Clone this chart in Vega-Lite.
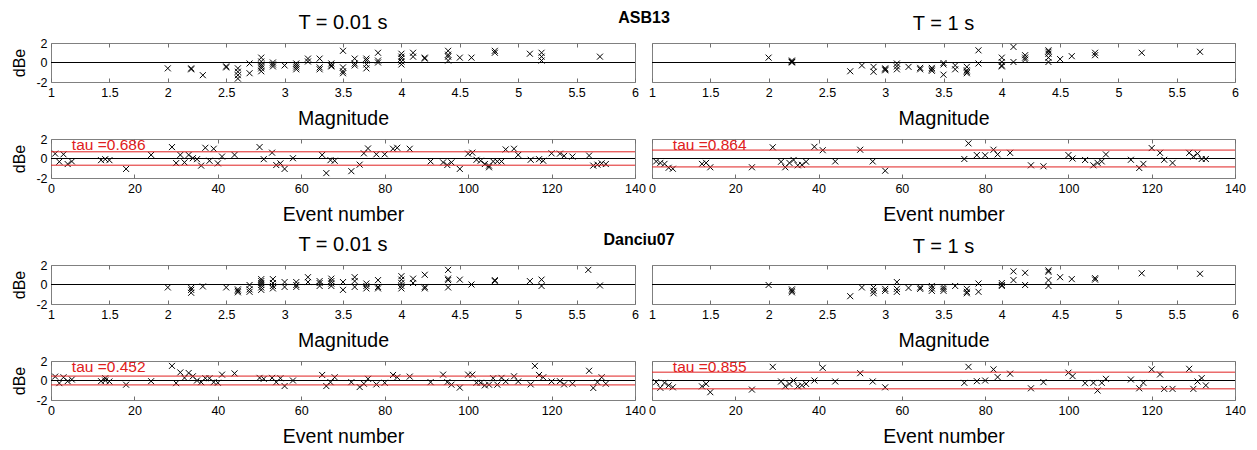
{
 "$schema": "https://vega.github.io/schema/vega-lite/v6.json",
 "padding": {"left": 11, "top": 9, "right": 5, "bottom": 5},
 "background": "white",
 "config": {
  "font": "Liberation Sans",
  "view": {"stroke": "#808080", "strokeWidth": 1},
  "axis": {"grid": false, "domain": false, "ticks": true, "tickSize": -4, "tickColor": "#707070", "tickWidth": 1, "labelPadding": 8, "labelFont": "Liberation Sans", "labelFontSize": 12.5, "labelColor": "#000000", "labelFlush": false, "labelOverlap": false, "labelBound": false, "titleFont": "Liberation Sans", "titleFontSize": 19.5, "titleFontWeight": "normal", "titleColor": "#000000", "titlePadding": 10.5},
  "axisY": {"ticks": false, "tickSize": 0, "labelPadding": 4, "titlePadding": 8, "titleFontSize": 16},
  "title": {"font": "Liberation Sans", "fontSize": 20, "fontWeight": "normal", "color": "#000000", "frame": "group", "anchor": "middle", "baseline": "alphabetic", "offset": 8}
 },
 "datasets": {
  "a1": [{"mag":2.0,"dBe":-0.6},{"mag":2.2,"dBe":-0.6},{"mag":2.2,"dBe":-0.7},{"mag":2.3,"dBe":-1.3},{"mag":2.5,"dBe":-0.5},{"mag":2.5,"dBe":-0.4},{"mag":2.6,"dBe":-0.6},{"mag":2.6,"dBe":-0.95},{"mag":2.6,"dBe":-1.3},{"mag":2.6,"dBe":-1.65},{"mag":2.7,"dBe":-0.1},{"mag":2.7,"dBe":-1.1},{"mag":2.8,"dBe":0.5},{"mag":2.8,"dBe":0.1},{"mag":2.8,"dBe":-0.2},{"mag":2.8,"dBe":-0.4},{"mag":2.8,"dBe":-0.6},{"mag":2.8,"dBe":-0.9},{"mag":2.9,"dBe":0.0},{"mag":2.9,"dBe":-0.2},{"mag":2.9,"dBe":-0.4},{"mag":3.0,"dBe":-0.3},{"mag":3.1,"dBe":-0.1},{"mag":3.1,"dBe":-0.3},{"mag":3.1,"dBe":-0.5},{"mag":3.1,"dBe":-0.7},{"mag":3.2,"dBe":0.4},{"mag":3.2,"dBe":0.1},{"mag":3.3,"dBe":0.4},{"mag":3.3,"dBe":-0.5},{"mag":3.3,"dBe":-0.7},{"mag":3.4,"dBe":-0.1},{"mag":3.4,"dBe":-0.3},{"mag":3.4,"dBe":-0.4},{"mag":3.5,"dBe":1.2},{"mag":3.5,"dBe":-0.5},{"mag":3.5,"dBe":-0.9},{"mag":3.5,"dBe":-1.1},{"mag":3.6,"dBe":0.4},{"mag":3.6,"dBe":-0.1},{"mag":3.6,"dBe":-0.3},{"mag":3.7,"dBe":0.4},{"mag":3.7,"dBe":0.2},{"mag":3.7,"dBe":-0.2},{"mag":3.7,"dBe":-0.6},{"mag":3.8,"dBe":1.0},{"mag":3.8,"dBe":0.2},{"mag":3.8,"dBe":0.0},{"mag":4.0,"dBe":0.9},{"mag":4.0,"dBe":0.6},{"mag":4.0,"dBe":0.4},{"mag":4.0,"dBe":0.1},{"mag":4.0,"dBe":-0.2},{"mag":4.1,"dBe":1.0},{"mag":4.1,"dBe":0.6},{"mag":4.2,"dBe":0.5},{"mag":4.2,"dBe":0.4},{"mag":4.4,"dBe":1.2},{"mag":4.4,"dBe":0.8},{"mag":4.4,"dBe":0.6},{"mag":4.4,"dBe":0.2},{"mag":4.5,"dBe":0.5},{"mag":4.6,"dBe":0.5},{"mag":4.8,"dBe":1.2},{"mag":4.8,"dBe":1.0},{"mag":5.1,"dBe":0.9},{"mag":5.2,"dBe":1.0},{"mag":5.2,"dBe":0.6},{"mag":5.2,"dBe":0.2},{"mag":5.7,"dBe":0.6}],
  "a2": [{"mag":2.0,"dBe":0.5},{"mag":2.2,"dBe":0.2},{"mag":2.2,"dBe":0.1},{"mag":2.2,"dBe":0.05},{"mag":2.2,"dBe":0.0},{"mag":2.7,"dBe":-0.9},{"mag":2.8,"dBe":-0.3},{"mag":2.9,"dBe":-0.45},{"mag":2.9,"dBe":-0.95},{"mag":3.0,"dBe":-0.6},{"mag":3.0,"dBe":-0.7},{"mag":3.0,"dBe":-0.8},{"mag":3.1,"dBe":-0.1},{"mag":3.1,"dBe":-0.4},{"mag":3.1,"dBe":-0.7},{"mag":3.2,"dBe":-0.45},{"mag":3.3,"dBe":-0.55},{"mag":3.3,"dBe":-0.7},{"mag":3.4,"dBe":-0.55},{"mag":3.4,"dBe":-0.7},{"mag":3.4,"dBe":-0.85},{"mag":3.5,"dBe":-0.05},{"mag":3.5,"dBe":-0.2},{"mag":3.5,"dBe":-1.25},{"mag":3.6,"dBe":-0.3},{"mag":3.6,"dBe":-0.7},{"mag":3.7,"dBe":-0.45},{"mag":3.7,"dBe":-0.8},{"mag":3.7,"dBe":-0.95},{"mag":3.7,"dBe":-1.1},{"mag":3.8,"dBe":1.25},{"mag":3.8,"dBe":-0.1},{"mag":4.0,"dBe":0.5},{"mag":4.0,"dBe":0.05},{"mag":4.0,"dBe":-0.3},{"mag":4.0,"dBe":-0.4},{"mag":4.1,"dBe":1.6},{"mag":4.1,"dBe":0.05},{"mag":4.2,"dBe":0.75},{"mag":4.2,"dBe":0.5},{"mag":4.2,"dBe":0.3},{"mag":4.4,"dBe":1.25},{"mag":4.4,"dBe":1.1},{"mag":4.4,"dBe":0.9},{"mag":4.4,"dBe":0.5},{"mag":4.4,"dBe":0.05},{"mag":4.5,"dBe":0.35},{"mag":4.6,"dBe":0.65},{"mag":4.8,"dBe":1.0},{"mag":4.8,"dBe":0.75},{"mag":5.2,"dBe":1.0},{"mag":5.7,"dBe":1.1}],
  "a3": [{"event":1,"dBe":0.5},{"event":2,"dBe":-0.33},{"event":3,"dBe":0.43},{"event":4,"dBe":-0.57},{"event":5,"dBe":-0.3},{"event":12,"dBe":-0.17},{"event":13,"dBe":-0.07},{"event":14,"dBe":-0.17},{"event":18,"dBe":-1.07},{"event":24,"dBe":0.37},{"event":29,"dBe":1.17},{"event":30,"dBe":-0.47},{"event":31,"dBe":0.37},{"event":32,"dBe":-0.4},{"event":33,"dBe":0.37},{"event":34,"dBe":0.03},{"event":35,"dBe":-0.07},{"event":36,"dBe":-0.73},{"event":37,"dBe":1.1},{"event":38,"dBe":-0.23},{"event":39,"dBe":1.0},{"event":40,"dBe":-0.5},{"event":41,"dBe":0.2},{"event":44,"dBe":0.37},{"event":50,"dBe":1.17},{"event":51,"dBe":-0.07},{"event":53,"dBe":0.6},{"event":54,"dBe":-0.67},{"event":55,"dBe":-0.5},{"event":56,"dBe":-1.07},{"event":58,"dBe":0.03},{"event":65,"dBe":0.37},{"event":66,"dBe":-1.5},{"event":67,"dBe":-0.17},{"event":68,"dBe":-0.23},{"event":72,"dBe":-1.3},{"event":74,"dBe":-0.63},{"event":75,"dBe":0.53},{"event":76,"dBe":1.03},{"event":78,"dBe":0.43},{"event":80,"dBe":0.43},{"event":82,"dBe":1.0},{"event":83,"dBe":1.1},{"event":86,"dBe":1.0},{"event":91,"dBe":-0.3},{"event":94,"dBe":-0.4},{"event":95,"dBe":-0.67},{"event":96,"dBe":-0.4},{"event":98,"dBe":-1.07},{"event":100,"dBe":0.5},{"event":101,"dBe":0.6},{"event":102,"dBe":-0.13},{"event":103,"dBe":-0.23},{"event":104,"dBe":-0.57},{"event":105,"dBe":-0.9},{"event":105,"dBe":-0.73},{"event":106,"dBe":-0.3},{"event":107,"dBe":-0.3},{"event":108,"dBe":-0.3},{"event":109,"dBe":0.93},{"event":111,"dBe":1.0},{"event":112,"dBe":0.37},{"event":115,"dBe":-0.13},{"event":117,"dBe":-0.07},{"event":118,"dBe":-0.23},{"event":120,"dBe":0.53},{"event":122,"dBe":0.5},{"event":123,"dBe":0.27},{"event":125,"dBe":0.2},{"event":129,"dBe":0.3},{"event":130,"dBe":-0.73},{"event":131,"dBe":-0.63},{"event":132,"dBe":-0.5},{"event":133,"dBe":-0.57}],
  "a4": [{"event":1,"dBe":-0.3},{"event":2,"dBe":-0.45},{"event":3,"dBe":-0.55},{"event":4,"dBe":-0.95},{"event":5,"dBe":-1.05},{"event":12,"dBe":-0.55},{"event":13,"dBe":-0.45},{"event":14,"dBe":-0.9},{"event":24,"dBe":-0.9},{"event":29,"dBe":1.15},{"event":31,"dBe":-0.33},{"event":32,"dBe":-0.9},{"event":33,"dBe":-0.45},{"event":34,"dBe":-0.15},{"event":35,"dBe":-0.7},{"event":36,"dBe":-0.65},{"event":37,"dBe":-0.33},{"event":39,"dBe":1.2},{"event":41,"dBe":0.85},{"event":44,"dBe":-0.3},{"event":50,"dBe":0.9},{"event":53,"dBe":-0.3},{"event":56,"dBe":-1.25},{"event":75,"dBe":-0.05},{"event":76,"dBe":1.55},{"event":78,"dBe":0.35},{"event":80,"dBe":0.33},{"event":82,"dBe":0.9},{"event":83,"dBe":0.42},{"event":86,"dBe":0.58},{"event":91,"dBe":-0.7},{"event":94,"dBe":-0.8},{"event":100,"dBe":0.35},{"event":101,"dBe":0.0},{"event":104,"dBe":-0.15},{"event":106,"dBe":-0.7},{"event":107,"dBe":-0.45},{"event":108,"dBe":-0.3},{"event":109,"dBe":0.42},{"event":115,"dBe":-0.13},{"event":117,"dBe":-0.97},{"event":118,"dBe":-0.55},{"event":120,"dBe":1.07},{"event":122,"dBe":0.58},{"event":123,"dBe":-0.13},{"event":125,"dBe":-0.45},{"event":129,"dBe":0.58},{"event":130,"dBe":0.2},{"event":131,"dBe":0.5},{"event":132,"dBe":-0.05},{"event":133,"dBe":-0.05}],
  "d1": [{"mag":2.0,"dBe":-0.3},{"mag":2.2,"dBe":-0.35},{"mag":2.2,"dBe":-0.55},{"mag":2.2,"dBe":-0.85},{"mag":2.3,"dBe":-0.2},{"mag":2.5,"dBe":-0.3},{"mag":2.6,"dBe":-0.5},{"mag":2.6,"dBe":-0.65},{"mag":2.6,"dBe":-0.8},{"mag":2.7,"dBe":-0.05},{"mag":2.7,"dBe":-0.5},{"mag":2.7,"dBe":-0.75},{"mag":2.8,"dBe":0.55},{"mag":2.8,"dBe":0.35},{"mag":2.8,"dBe":0.15},{"mag":2.8,"dBe":-0.05},{"mag":2.8,"dBe":-0.3},{"mag":2.8,"dBe":-0.55},{"mag":2.9,"dBe":0.55},{"mag":2.9,"dBe":0.15},{"mag":2.9,"dBe":-0.15},{"mag":2.9,"dBe":-0.4},{"mag":3.0,"dBe":0.25},{"mag":3.0,"dBe":-0.25},{"mag":3.1,"dBe":0.25},{"mag":3.1,"dBe":-0.05},{"mag":3.1,"dBe":-0.25},{"mag":3.2,"dBe":0.75},{"mag":3.2,"dBe":0.25},{"mag":3.3,"dBe":0.35},{"mag":3.3,"dBe":0.15},{"mag":3.3,"dBe":-0.15},{"mag":3.4,"dBe":0.6},{"mag":3.4,"dBe":0.35},{"mag":3.4,"dBe":0.1},{"mag":3.4,"dBe":-0.15},{"mag":3.5,"dBe":0.25},{"mag":3.5,"dBe":-0.55},{"mag":3.6,"dBe":0.75},{"mag":3.6,"dBe":0.35},{"mag":3.6,"dBe":-0.25},{"mag":3.7,"dBe":0.1},{"mag":3.7,"dBe":-0.15},{"mag":3.7,"dBe":-0.4},{"mag":3.8,"dBe":0.45},{"mag":3.8,"dBe":-0.25},{"mag":3.8,"dBe":-0.4},{"mag":4.0,"dBe":0.85},{"mag":4.0,"dBe":0.5},{"mag":4.0,"dBe":0.15},{"mag":4.0,"dBe":-0.15},{"mag":4.0,"dBe":-0.4},{"mag":4.1,"dBe":0.6},{"mag":4.1,"dBe":0.15},{"mag":4.2,"dBe":1.0},{"mag":4.2,"dBe":-0.25},{"mag":4.2,"dBe":-0.4},{"mag":4.4,"dBe":1.5},{"mag":4.4,"dBe":0.6},{"mag":4.4,"dBe":0.45},{"mag":4.4,"dBe":-0.3},{"mag":4.5,"dBe":0.5},{"mag":4.6,"dBe":0.0},{"mag":4.8,"dBe":0.45},{"mag":4.8,"dBe":0.35},{"mag":5.1,"dBe":0.35},{"mag":5.2,"dBe":0.5},{"mag":5.2,"dBe":-0.15},{"mag":5.6,"dBe":1.5},{"mag":5.7,"dBe":-0.1}],
  "d2": [{"mag":2.0,"dBe":-0.05},{"mag":2.2,"dBe":-0.5},{"mag":2.2,"dBe":-0.65},{"mag":2.2,"dBe":-0.8},{"mag":2.7,"dBe":-1.2},{"mag":2.8,"dBe":-0.3},{"mag":2.9,"dBe":-0.3},{"mag":2.9,"dBe":-0.65},{"mag":2.9,"dBe":-0.9},{"mag":3.0,"dBe":-0.45},{"mag":3.0,"dBe":-0.65},{"mag":3.1,"dBe":0.25},{"mag":3.1,"dBe":-0.45},{"mag":3.1,"dBe":-0.75},{"mag":3.2,"dBe":-0.35},{"mag":3.3,"dBe":-0.3},{"mag":3.3,"dBe":-0.45},{"mag":3.4,"dBe":-0.15},{"mag":3.4,"dBe":-0.4},{"mag":3.4,"dBe":-0.65},{"mag":3.5,"dBe":-0.25},{"mag":3.5,"dBe":-0.45},{"mag":3.5,"dBe":-0.65},{"mag":3.6,"dBe":-0.15},{"mag":3.7,"dBe":-0.45},{"mag":3.7,"dBe":-0.75},{"mag":3.7,"dBe":-0.9},{"mag":3.8,"dBe":0.1},{"mag":3.8,"dBe":-0.75},{"mag":4.0,"dBe":0.15},{"mag":4.0,"dBe":-0.05},{"mag":4.0,"dBe":-0.15},{"mag":4.1,"dBe":1.35},{"mag":4.1,"dBe":0.45},{"mag":4.2,"dBe":1.2},{"mag":4.2,"dBe":-0.05},{"mag":4.4,"dBe":1.45},{"mag":4.4,"dBe":1.3},{"mag":4.4,"dBe":0.45},{"mag":4.4,"dBe":-0.15},{"mag":4.5,"dBe":0.75},{"mag":4.6,"dBe":0.55},{"mag":4.8,"dBe":0.65},{"mag":4.8,"dBe":0.5},{"mag":5.2,"dBe":1.15},{"mag":5.7,"dBe":1.1}],
  "d3": [{"event":1,"dBe":0.4},{"event":2,"dBe":-0.27},{"event":3,"dBe":0.33},{"event":4,"dBe":-0.07},{"event":5,"dBe":0.1},{"event":12,"dBe":-0.07},{"event":13,"dBe":0.23},{"event":13,"dBe":0.0},{"event":14,"dBe":-0.1},{"event":18,"dBe":-0.43},{"event":24,"dBe":-0.07},{"event":29,"dBe":1.5},{"event":30,"dBe":-0.27},{"event":31,"dBe":0.83},{"event":32,"dBe":0.27},{"event":33,"dBe":0.77},{"event":34,"dBe":0.43},{"event":35,"dBe":0.0},{"event":36,"dBe":-0.17},{"event":37,"dBe":0.23},{"event":38,"dBe":0.23},{"event":39,"dBe":-0.17},{"event":40,"dBe":-0.23},{"event":41,"dBe":0.6},{"event":44,"dBe":0.73},{"event":50,"dBe":0.27},{"event":51,"dBe":0.17},{"event":53,"dBe":0.27},{"event":54,"dBe":-0.17},{"event":55,"dBe":0.23},{"event":56,"dBe":-0.57},{"event":58,"dBe":0.0},{"event":65,"dBe":0.57},{"event":66,"dBe":-0.57},{"event":67,"dBe":-0.17},{"event":68,"dBe":0.33},{"event":72,"dBe":-0.17},{"event":74,"dBe":-0.67},{"event":75,"dBe":-0.33},{"event":76,"dBe":0.17},{"event":78,"dBe":-0.4},{"event":80,"dBe":-0.23},{"event":82,"dBe":0.57},{"event":83,"dBe":0.33},{"event":86,"dBe":0.4},{"event":91,"dBe":-0.17},{"event":94,"dBe":0.6},{"event":95,"dBe":-0.17},{"event":96,"dBe":-0.43},{"event":98,"dBe":-0.73},{"event":100,"dBe":0.6},{"event":101,"dBe":0.6},{"event":102,"dBe":-0.23},{"event":103,"dBe":-0.23},{"event":104,"dBe":-0.5},{"event":105,"dBe":-0.43},{"event":106,"dBe":0.23},{"event":107,"dBe":-0.43},{"event":108,"dBe":0.27},{"event":109,"dBe":-0.1},{"event":111,"dBe":0.43},{"event":112,"dBe":-0.1},{"event":115,"dBe":-0.4},{"event":116,"dBe":1.5},{"event":117,"dBe":0.57},{"event":118,"dBe":0.33},{"event":120,"dBe":-0.1},{"event":122,"dBe":-0.07},{"event":123,"dBe":-0.4},{"event":125,"dBe":-0.33},{"event":129,"dBe":1.0},{"event":130,"dBe":-0.77},{"event":131,"dBe":-0.17},{"event":132,"dBe":0.33},{"event":133,"dBe":-0.33}],
  "d4": [{"event":1,"dBe":-0.17},{"event":2,"dBe":-0.75},{"event":3,"dBe":-0.24},{"event":4,"dBe":-0.5},{"event":5,"dBe":-0.7},{"event":12,"dBe":-0.6},{"event":13,"dBe":-0.35},{"event":14,"dBe":-1.2},{"event":24,"dBe":-0.93},{"event":29,"dBe":1.4},{"event":31,"dBe":-0.1},{"event":32,"dBe":-0.6},{"event":33,"dBe":-0.35},{"event":34,"dBe":0.0},{"event":35,"dBe":-0.6},{"event":36,"dBe":-0.5},{"event":37,"dBe":-0.35},{"event":39,"dBe":0.0},{"event":41,"dBe":1.3},{"event":44,"dBe":-0.1},{"event":50,"dBe":0.75},{"event":53,"dBe":-0.1},{"event":56,"dBe":-0.7},{"event":75,"dBe":-0.24},{"event":76,"dBe":1.4},{"event":78,"dBe":-0.07},{"event":80,"dBe":0.0},{"event":82,"dBe":1.14},{"event":83,"dBe":0.35},{"event":86,"dBe":0.7},{"event":91,"dBe":-0.8},{"event":94,"dBe":-0.17},{"event":100,"dBe":0.8},{"event":101,"dBe":0.45},{"event":104,"dBe":-0.28},{"event":106,"dBe":-0.24},{"event":107,"dBe":-1.03},{"event":108,"dBe":-0.24},{"event":109,"dBe":0.17},{"event":115,"dBe":0.1},{"event":117,"dBe":-0.8},{"event":118,"dBe":-0.24},{"event":120,"dBe":1.14},{"event":122,"dBe":0.62},{"event":123,"dBe":-0.86},{"event":125,"dBe":-0.86},{"event":129,"dBe":1.2},{"event":130,"dBe":-0.86},{"event":131,"dBe":-0.1},{"event":132,"dBe":0.24},{"event":133,"dBe":-0.5}]
 },
 "spacing": 7,
 "vconcat": [
  {
   "title": {"text": "ASB13", "fontSize": 16, "fontWeight": "bold", "offset": -13, "dx": 593},
   "spacing": 4,
   "vconcat": [
    {"bounds": "flush", "spacing": 17, "hconcat": [
     {"width": 584, "height": 39, "title": {"text": "T = 0.01 s", "offset": 4}, "resolve": {"axis": {"x": "independent", "y": "independent"}},
      "layer": [
       {"data": {"name": "a1"}, "mark": {"type": "point", "shape": "M-1,-1L1,1M1,-1L-1,1", "filled": false, "color": "black", "strokeWidth": 1, "size": 36, "opacity": 1},
        "encoding": {"x": {"field": "mag", "type": "quantitative", "scale": {"domain": [1, 6], "nice": false, "zero": false}, "axis": {"values": [1,1.5,2,2.5,3,3.5,4,4.5,5,5.5,6], "labelExpr": "'' + datum.value", "title": "Magnitude"}},
                     "y": {"field": "dBe", "type": "quantitative", "scale": {"domain": [-2, 2], "nice": false}, "axis": {"values": [-2,0,2], "labelExpr": "'' + datum.value", "title": "dBe"}}}},
       {"data": {"values": [{"level": 0}]}, "mark": {"type": "rule", "color": "black", "strokeWidth": 1},
        "encoding": {"x": {"datum": 1, "type": "quantitative", "scale": {"domain": [1, 6], "nice": false, "zero": false}, "axis": {"orient": "top", "values": [1,1.5,2,2.5,3,3.5,4,4.5,5,5.5,6], "labels": false, "title": null}}, "x2": {"datum": 6},
                     "y": {"field": "level", "type": "quantitative", "scale": {"domain": [-2, 2], "nice": false}, "axis": null}}}
      ]},
     {"width": 583, "height": 39, "title": {"text": "T = 1 s"}, "resolve": {"axis": {"x": "independent", "y": "independent"}},
      "layer": [
       {"data": {"name": "a2"}, "mark": {"type": "point", "shape": "M-1,-1L1,1M1,-1L-1,1", "filled": false, "color": "black", "strokeWidth": 1, "size": 36, "opacity": 1},
        "encoding": {"x": {"field": "mag", "type": "quantitative", "scale": {"domain": [1, 6], "nice": false, "zero": false}, "axis": {"values": [1,1.5,2,2.5,3,3.5,4,4.5,5,5.5,6], "labelExpr": "'' + datum.value", "title": "Magnitude"}},
                     "y": {"field": "dBe", "type": "quantitative", "scale": {"domain": [-2, 2], "nice": false}, "axis": null}}},
       {"data": {"values": [{"level": 0}]}, "mark": {"type": "rule", "color": "black", "strokeWidth": 1},
        "encoding": {"x": {"datum": 1, "type": "quantitative", "scale": {"domain": [1, 6], "nice": false, "zero": false}, "axis": {"orient": "top", "values": [1,1.5,2,2.5,3,3.5,4,4.5,5,5.5,6], "labels": false, "title": null}}, "x2": {"datum": 6},
                     "y": {"field": "level", "type": "quantitative", "scale": {"domain": [-2, 2], "nice": false}, "axis": null}}}
      ]}
    ]},
    {"bounds": "flush", "spacing": 17, "hconcat": [
     {"width": 584, "height": 39, "resolve": {"axis": {"x": "independent", "y": "independent"}},
      "layer": [
       {"data": {"name": "a3"}, "mark": {"type": "point", "shape": "M-1,-1L1,1M1,-1L-1,1", "filled": false, "color": "black", "strokeWidth": 1, "size": 36, "opacity": 1},
        "encoding": {"x": {"field": "event", "type": "quantitative", "scale": {"domain": [0, 140], "nice": false, "zero": false}, "axis": {"values": [0,20,40,60,80,100,120,140], "labelExpr": "'' + datum.value", "title": "Event number"}},
                     "y": {"field": "dBe", "type": "quantitative", "scale": {"domain": [-2, 2], "nice": false}, "axis": {"values": [-2,0,2], "labelExpr": "'' + datum.value", "title": "dBe"}}}},
       {"data": {"values": [{"level": 0}]}, "mark": {"type": "rule", "color": "black", "strokeWidth": 1},
        "encoding": {"x": {"datum": 0, "type": "quantitative", "scale": {"domain": [0, 140], "nice": false, "zero": false}, "axis": {"orient": "top", "values": [0,20,40,60,80,100,120,140], "labels": false, "title": null}}, "x2": {"datum": 140},
                     "y": {"field": "level", "type": "quantitative", "scale": {"domain": [-2, 2], "nice": false}, "axis": null}}},
       {"data": {"values": [{"tau": 0.686}, {"tau": -0.686}]}, "mark": {"type": "rule", "color": "#e02020", "strokeWidth": 1},
        "encoding": {"y": {"field": "tau", "type": "quantitative", "scale": {"domain": [-2, 2], "nice": false}, "axis": null}}},
       {"data": {"values": [{"label": "tau =0.686", "event": 5, "dBe": 1.35}]}, "mark": {"type": "text", "color": "#e02020", "fontSize": 15.5, "align": "left", "baseline": "middle"},
        "encoding": {"x": {"field": "event", "type": "quantitative", "scale": {"domain": [0, 140], "nice": false, "zero": false}, "axis": null}, "y": {"field": "dBe", "type": "quantitative", "scale": {"domain": [-2, 2], "nice": false}, "axis": null}, "text": {"field": "label"}}}
      ]},
     {"width": 583, "height": 39, "resolve": {"axis": {"x": "independent", "y": "independent"}},
      "layer": [
       {"data": {"name": "a4"}, "mark": {"type": "point", "shape": "M-1,-1L1,1M1,-1L-1,1", "filled": false, "color": "black", "strokeWidth": 1, "size": 36, "opacity": 1},
        "encoding": {"x": {"field": "event", "type": "quantitative", "scale": {"domain": [0, 140], "nice": false, "zero": false}, "axis": {"values": [0,20,40,60,80,100,120,140], "labelExpr": "'' + datum.value", "title": "Event number"}},
                     "y": {"field": "dBe", "type": "quantitative", "scale": {"domain": [-2, 2], "nice": false}, "axis": null}}},
       {"data": {"values": [{"level": 0}]}, "mark": {"type": "rule", "color": "black", "strokeWidth": 1},
        "encoding": {"x": {"datum": 0, "type": "quantitative", "scale": {"domain": [0, 140], "nice": false, "zero": false}, "axis": {"orient": "top", "values": [0,20,40,60,80,100,120,140], "labels": false, "title": null}}, "x2": {"datum": 140},
                     "y": {"field": "level", "type": "quantitative", "scale": {"domain": [-2, 2], "nice": false}, "axis": null}}},
       {"data": {"values": [{"tau": 0.864}, {"tau": -0.864}]}, "mark": {"type": "rule", "color": "#e02020", "strokeWidth": 1},
        "encoding": {"y": {"field": "tau", "type": "quantitative", "scale": {"domain": [-2, 2], "nice": false}, "axis": null}}},
       {"data": {"values": [{"label": "tau =0.864", "event": 5, "dBe": 1.35}]}, "mark": {"type": "text", "color": "#e02020", "fontSize": 15.5, "align": "left", "baseline": "middle"},
        "encoding": {"x": {"field": "event", "type": "quantitative", "scale": {"domain": [0, 140], "nice": false, "zero": false}, "axis": null}, "y": {"field": "dBe", "type": "quantitative", "scale": {"domain": [-2, 2], "nice": false}, "axis": null}, "text": {"field": "label"}}}
      ]}
    ]}
   ]
  },
  {
   "title": {"text": "Danciu07", "fontSize": 16, "fontWeight": "bold", "offset": -13, "dx": 588},
   "spacing": 4,
   "vconcat": [
    {"bounds": "flush", "spacing": 17, "hconcat": [
     {"width": 584, "height": 39, "title": {"text": "T = 0.01 s", "offset": 4}, "resolve": {"axis": {"x": "independent", "y": "independent"}},
      "layer": [
       {"data": {"name": "d1"}, "mark": {"type": "point", "shape": "M-1,-1L1,1M1,-1L-1,1", "filled": false, "color": "black", "strokeWidth": 1, "size": 36, "opacity": 1},
        "encoding": {"x": {"field": "mag", "type": "quantitative", "scale": {"domain": [1, 6], "nice": false, "zero": false}, "axis": {"values": [1,1.5,2,2.5,3,3.5,4,4.5,5,5.5,6], "labelExpr": "'' + datum.value", "title": "Magnitude"}},
                     "y": {"field": "dBe", "type": "quantitative", "scale": {"domain": [-2, 2], "nice": false}, "axis": {"values": [-2,0,2], "labelExpr": "'' + datum.value", "title": "dBe"}}}},
       {"data": {"values": [{"level": 0}]}, "mark": {"type": "rule", "color": "black", "strokeWidth": 1},
        "encoding": {"x": {"datum": 1, "type": "quantitative", "scale": {"domain": [1, 6], "nice": false, "zero": false}, "axis": {"orient": "top", "values": [1,1.5,2,2.5,3,3.5,4,4.5,5,5.5,6], "labels": false, "title": null}}, "x2": {"datum": 6},
                     "y": {"field": "level", "type": "quantitative", "scale": {"domain": [-2, 2], "nice": false}, "axis": null}}}
      ]},
     {"width": 583, "height": 39, "title": {"text": "T = 1 s"}, "resolve": {"axis": {"x": "independent", "y": "independent"}},
      "layer": [
       {"data": {"name": "d2"}, "mark": {"type": "point", "shape": "M-1,-1L1,1M1,-1L-1,1", "filled": false, "color": "black", "strokeWidth": 1, "size": 36, "opacity": 1},
        "encoding": {"x": {"field": "mag", "type": "quantitative", "scale": {"domain": [1, 6], "nice": false, "zero": false}, "axis": {"values": [1,1.5,2,2.5,3,3.5,4,4.5,5,5.5,6], "labelExpr": "'' + datum.value", "title": "Magnitude"}},
                     "y": {"field": "dBe", "type": "quantitative", "scale": {"domain": [-2, 2], "nice": false}, "axis": null}}},
       {"data": {"values": [{"level": 0}]}, "mark": {"type": "rule", "color": "black", "strokeWidth": 1},
        "encoding": {"x": {"datum": 1, "type": "quantitative", "scale": {"domain": [1, 6], "nice": false, "zero": false}, "axis": {"orient": "top", "values": [1,1.5,2,2.5,3,3.5,4,4.5,5,5.5,6], "labels": false, "title": null}}, "x2": {"datum": 6},
                     "y": {"field": "level", "type": "quantitative", "scale": {"domain": [-2, 2], "nice": false}, "axis": null}}}
      ]}
    ]},
    {"bounds": "flush", "spacing": 17, "hconcat": [
     {"width": 584, "height": 39, "resolve": {"axis": {"x": "independent", "y": "independent"}},
      "layer": [
       {"data": {"name": "d3"}, "mark": {"type": "point", "shape": "M-1,-1L1,1M1,-1L-1,1", "filled": false, "color": "black", "strokeWidth": 1, "size": 36, "opacity": 1},
        "encoding": {"x": {"field": "event", "type": "quantitative", "scale": {"domain": [0, 140], "nice": false, "zero": false}, "axis": {"values": [0,20,40,60,80,100,120,140], "labelExpr": "'' + datum.value", "title": "Event number"}},
                     "y": {"field": "dBe", "type": "quantitative", "scale": {"domain": [-2, 2], "nice": false}, "axis": {"values": [-2,0,2], "labelExpr": "'' + datum.value", "title": "dBe"}}}},
       {"data": {"values": [{"level": 0}]}, "mark": {"type": "rule", "color": "black", "strokeWidth": 1},
        "encoding": {"x": {"datum": 0, "type": "quantitative", "scale": {"domain": [0, 140], "nice": false, "zero": false}, "axis": {"orient": "top", "values": [0,20,40,60,80,100,120,140], "labels": false, "title": null}}, "x2": {"datum": 140},
                     "y": {"field": "level", "type": "quantitative", "scale": {"domain": [-2, 2], "nice": false}, "axis": null}}},
       {"data": {"values": [{"tau": 0.452}, {"tau": -0.452}]}, "mark": {"type": "rule", "color": "#e02020", "strokeWidth": 1},
        "encoding": {"y": {"field": "tau", "type": "quantitative", "scale": {"domain": [-2, 2], "nice": false}, "axis": null}}},
       {"data": {"values": [{"label": "tau =0.452", "event": 5, "dBe": 1.35}]}, "mark": {"type": "text", "color": "#e02020", "fontSize": 15.5, "align": "left", "baseline": "middle"},
        "encoding": {"x": {"field": "event", "type": "quantitative", "scale": {"domain": [0, 140], "nice": false, "zero": false}, "axis": null}, "y": {"field": "dBe", "type": "quantitative", "scale": {"domain": [-2, 2], "nice": false}, "axis": null}, "text": {"field": "label"}}}
      ]},
     {"width": 583, "height": 39, "resolve": {"axis": {"x": "independent", "y": "independent"}},
      "layer": [
       {"data": {"name": "d4"}, "mark": {"type": "point", "shape": "M-1,-1L1,1M1,-1L-1,1", "filled": false, "color": "black", "strokeWidth": 1, "size": 36, "opacity": 1},
        "encoding": {"x": {"field": "event", "type": "quantitative", "scale": {"domain": [0, 140], "nice": false, "zero": false}, "axis": {"values": [0,20,40,60,80,100,120,140], "labelExpr": "'' + datum.value", "title": "Event number"}},
                     "y": {"field": "dBe", "type": "quantitative", "scale": {"domain": [-2, 2], "nice": false}, "axis": null}}},
       {"data": {"values": [{"level": 0}]}, "mark": {"type": "rule", "color": "black", "strokeWidth": 1},
        "encoding": {"x": {"datum": 0, "type": "quantitative", "scale": {"domain": [0, 140], "nice": false, "zero": false}, "axis": {"orient": "top", "values": [0,20,40,60,80,100,120,140], "labels": false, "title": null}}, "x2": {"datum": 140},
                     "y": {"field": "level", "type": "quantitative", "scale": {"domain": [-2, 2], "nice": false}, "axis": null}}},
       {"data": {"values": [{"tau": 0.855}, {"tau": -0.855}]}, "mark": {"type": "rule", "color": "#e02020", "strokeWidth": 1},
        "encoding": {"y": {"field": "tau", "type": "quantitative", "scale": {"domain": [-2, 2], "nice": false}, "axis": null}}},
       {"data": {"values": [{"label": "tau =0.855", "event": 5, "dBe": 1.35}]}, "mark": {"type": "text", "color": "#e02020", "fontSize": 15.5, "align": "left", "baseline": "middle"},
        "encoding": {"x": {"field": "event", "type": "quantitative", "scale": {"domain": [0, 140], "nice": false, "zero": false}, "axis": null}, "y": {"field": "dBe", "type": "quantitative", "scale": {"domain": [-2, 2], "nice": false}, "axis": null}, "text": {"field": "label"}}}
      ]}
    ]}
   ]
  }
 ]
}
